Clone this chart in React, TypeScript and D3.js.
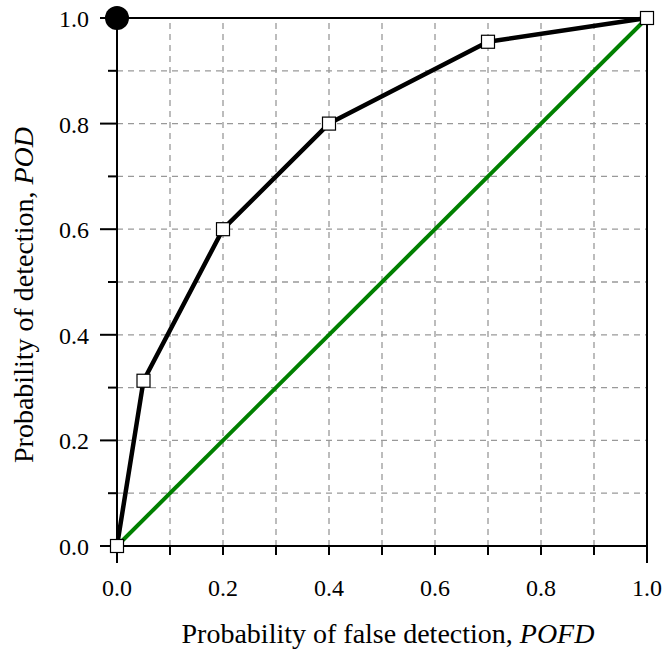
import React from "react";
import * as d3 from "d3";

const pofd = [0, 0.05, 0.2, 0.4, 0.7, 1.0];
const pod = [0, 0.313, 0.6, 0.8, 0.955, 1.0];
const majorTicks = [0, 0.2, 0.4, 0.6, 0.8, 1.0];
const gridTicks = [0.1, 0.2, 0.3, 0.4, 0.5, 0.6, 0.7, 0.8, 0.9];
const minorTicks = [0.1, 0.3, 0.5, 0.7, 0.9];
const perfectPoint = [{ x: 0, y: 1 }];
const noSkill = [0, 1];

export default function App() {
  const W = 666, H = 653;
  const x = d3.scaleLinear().domain([0, 1]).range([117, 647]);
  const y = d3.scaleLinear().domain([0, 1]).range([546, 18]);
  const pts = pofd.map((v, i) => [x(v), y(pod[i])] as [number, number]);
  const line = d3.line();
  const font = "'Liberation Serif', 'Times New Roman', serif";
  return (
    <svg width={W} height={H} style={{ position: "absolute", left: 0, top: 0, background: "#fff" }}>
      <rect width={W} height={H} fill="#fff" />
      {gridTicks.map((t) => (
        <g key={"g" + t}>
          <line x1={x(t)} x2={x(t)} y1={y(0)} y2={y(1)} stroke="#999" strokeWidth={1.3} strokeDasharray="6,5" />
          <line x1={x(0)} x2={x(1)} y1={y(t)} y2={y(t)} stroke="#999" strokeWidth={1.3} strokeDasharray="6,5" />
        </g>
      ))}
      {/* frame */}
      <line x1={x(0) - 17} x2={x(1)} y1={y(0)} y2={y(0)} stroke="#000" strokeWidth={2} />
      <line x1={x(0) - 17} x2={x(1)} y1={y(1)} y2={y(1)} stroke="#000" strokeWidth={2} />
      <line x1={x(0)} x2={x(0)} y1={y(1)} y2={y(0) + 17} stroke="#000" strokeWidth={2} />
      <line x1={x(1)} x2={x(1)} y1={y(1)} y2={y(0) + 17} stroke="#000" strokeWidth={2} />
      {/* x ticks */}
      {gridTicks.map((t) => (
        <line key={"xt" + t} x1={x(t)} x2={x(t)} y1={y(0)} y2={y(0) + 9} stroke="#000" strokeWidth={2} />
      ))}
      {/* y ticks */}
      {majorTicks.map((t) => (
        <line key={"yM" + t} x1={x(0) - 17} x2={x(0)} y1={y(t)} y2={y(t)} stroke="#000" strokeWidth={2} />
      ))}
      {minorTicks.map((t) => (
        <line key={"ym" + t} x1={x(0) - 9} x2={x(0)} y1={y(t)} y2={y(t)} stroke="#000" strokeWidth={2} />
      ))}
      {/* labels */}
      {majorTicks.map((t) => (
        <text key={"xl" + t} x={x(t)} y={596} textAnchor="middle" fontFamily={font} fontSize={24}>
          {t.toFixed(1)}
        </text>
      ))}
      {majorTicks.map((t) => (
        <text key={"yl" + t} x={89} y={y(t) + 9} textAnchor="end" fontFamily={font} fontSize={24}>
          {t.toFixed(1)}
        </text>
      ))}
      <text x={388} y={643} textAnchor="middle" fontFamily={font} fontSize={28}>
        Probability of false detection, <tspan fontStyle="italic">POFD</tspan>
      </text>
      <text transform="translate(33,295) rotate(-90)" textAnchor="middle" fontFamily={font} fontSize={28}>
        Probability of detection, <tspan fontStyle="italic">POD</tspan>
      </text>
      {/* no-skill line */}
      <line x1={x(noSkill[0])} y1={y(noSkill[0])} x2={x(noSkill[1])} y2={y(noSkill[1])} stroke="#008000" strokeWidth={4} />
      {/* ROC curve */}
      <path d={line(pts) || ""} fill="none" stroke="#000" strokeWidth={4.5} strokeLinejoin="round" />
      {pts.map((p, i) => (
        <rect key={"p" + i} x={p[0] - 6.5} y={p[1] - 6.5} width={13} height={13} fill="#fff" stroke="#000" strokeWidth={1.2} />
      ))}
      {perfectPoint.map((p, i) => (
        <circle key={"c" + i} cx={x(p.x)} cy={y(p.y)} r={12} fill="#000" />
      ))}
    </svg>
  );
}
